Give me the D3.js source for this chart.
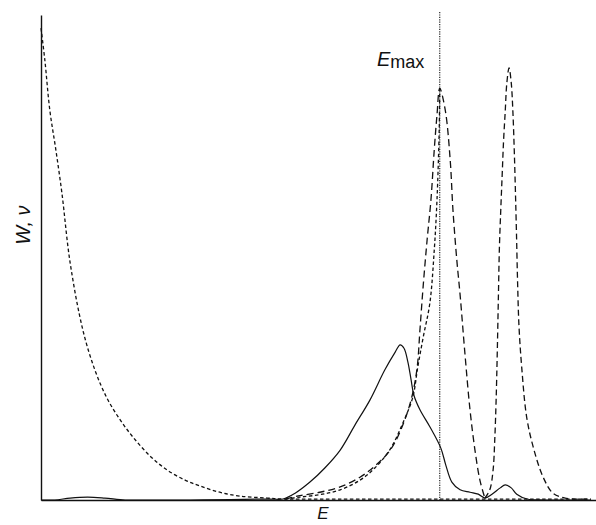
<!DOCTYPE html>
<html>
<head>
<meta charset="utf-8">
<script src="https://cdn.jsdelivr.net/npm/d3@7"></script>
<style>
  html, body { margin: 0; padding: 0; background: #fff; }
  svg { display: block; }
  text { font-family: "Liberation Sans", Arial, sans-serif; fill: #111; }
</style>
</head>
<body>
<svg id="chart" width="596" height="525"></svg>
<script>
// Energy E (0-100, arbitrary units) and value (0-100, arbitrary units)
const solidW = [
  [0,0],[2.5,0],[5.3,0.4],[8.5,0.6],[11.6,0.4],[15.3,0],[19.8,0],[27.1,0],[34.4,0.1],
  [41.6,0.2],[44,0.2],[46.2,1.4],[48.9,3.7],[51.6,6.6],[54.4,10.3],[57.1,15.5],
  [59.8,20.6],[62.5,26.8],[64.4,30.5],[65.3,32.0],[66.0,31.3],[66.7,28.5],[67.3,24.7],
  [67.8,21.6],[68.9,18.6],[70.7,15.1],[72.7,10.7],[73.6,7.2],[74.7,3.7],[76.2,2.1],
  [78.0,1.6],[79.5,1.2],[80.7,0.4],[82.0,1.2],[83.5,2.5],[84.4,3.1],[85.5,2.5],
  [86.5,1.2],[88.4,0.2],[91.6,0],[100,0]
];
const decayNu = [
  [0,97.3],[0.7,90.7],[1.6,80.4],[2.7,72.2],[3.8,63.3],[5.3,48.9],[7.6,35.1],[9.8,26.8],
  [12.0,21.0],[14.4,16.5],[16.7,13.0],[19.8,9.1],[22.9,6.2],[26.2,4.1],[28.9,2.9],
  [32.5,1.6],[36.2,0.8],[41.1,0.4],[44,0.2],[50.7,0.2],[65.3,0.2],[79.8,0.2],[100,0.2]
];
const outerNu = [
  [44.4,0.2],[47.1,0.9],[50.7,1.6],[54.4,2.7],[58.0,4.7],[60.7,7.0],[63.5,10.3],
  [65.8,15.5],[67.5,21.6],[68.4,27.4],[68.9,35.1],[69.5,44.3],[70.2,53.6],[70.9,61.9],
  [71.5,72.2],[72.0,79.4],[72.5,84.9],[73.5,80.4],[74.4,70.1],[74.9,59.8],[75.6,49.5],
  [76.2,42.3],[77.1,29.9],[78.0,18.6],[78.9,10.3],[79.8,4.1],[80.7,0.4]
];
const innerNu = [
  [44.4,0.2],[47.1,0.6],[50.7,1.1],[54.4,2.1],[58.0,4.1],[60.7,6.6],[63.5,10.5],
  [65.8,15.9],[67.6,21.2],[68.5,27.4],[69.5,33.6],[70.7,40.6],[71.5,51.5],[72.0,61.9],
  [72.4,76.3],[72.5,84.9]
];
const secondNu = [
  [80.7,0.4],[81.6,2.1],[82.2,6.2],[82.5,12.4],[82.75,20.6],[82.95,30.0],[83.15,41.2],
  [83.35,52.2],[83.6,60.0],[83.85,67.0],[84.1,74.0],[84.4,80.0],[84.7,86.0],[85.1,89.1],
  [85.5,86.0],[85.8,80.0],[86.05,72.0],[86.25,64.0],[86.45,55.0],[86.65,45.0],[86.9,36.0],
  [87.4,27.4],[88.3,17.1],[89.5,10.9],[91.3,4.7],[93.1,1.4],[95.3,0.4],[100,0.2]
];
const eMax = 72.5;
const yLabel = "W, ν";
const xLabel = "E";

const svg = d3.select("#chart");
const x = d3.scaleLinear().domain([0, 100]).range([41, 591]);
const y = d3.scaleLinear().domain([0, 100]).range([500, 15]);
const xAxisScale = d3.scaleLinear().domain([0, 100]).range([41, 596]);

// axes (lines only, no ticks)
svg.append("g").attr("transform", "translate(0,500)")
  .call(d3.axisBottom(xAxisScale).ticks(0).tickSize(0).tickSizeOuter(0))
  .select(".domain").attr("stroke", "#111").attr("stroke-width", 1.4);
svg.append("g").attr("transform", "translate(41,0)")
  .call(d3.axisLeft(y).ticks(0).tickSize(0).tickSizeOuter(0))
  .select(".domain").attr("stroke", "#111").attr("stroke-width", 1.4);

// E_max dotted line
svg.append("line")
  .attr("x1", x(eMax)).attr("x2", x(eMax))
  .attr("y1", 12).attr("y2", y(0))
  .attr("stroke", "#111").attr("stroke-width", 1.1)
  .attr("stroke-dasharray", "1.2,1.2");

const line = d3.line().x(d => x(d[0])).y(d => y(d[1])).curve(d3.curveCatmullRom.alpha(0.5));

function draw(data, dash, w) {
  svg.append("path").datum(data)
    .attr("d", line).attr("fill", "none")
    .attr("stroke", "#111").attr("stroke-width", w)
    .attr("stroke-dasharray", dash);
}
draw(decayNu, "3.5,2.5", 1.3);
draw(outerNu, "7,4", 1.3);
draw(innerNu, "3.5,2.5", 1.3);
draw(secondNu, "6,3.5", 1.3);
draw(solidW, null, 1.2);

// labels
const em = svg.append("text").attr("x", 377).attr("y", 66).attr("font-size", 20);
em.append("tspan").attr("font-style", "italic").text("E");
em.append("tspan").attr("font-size", 18).attr("dy", 2).text("max");

svg.append("text").attr("x", 323).attr("y", 519).attr("font-size", 17)
  .attr("font-style", "italic").attr("text-anchor", "middle").text(xLabel);

svg.append("text").attr("transform", "translate(30,225) rotate(-90)")
  .attr("font-size", 20).attr("font-style", "italic").attr("text-anchor", "middle")
  .text(yLabel);
</script>
</body>
</html>
